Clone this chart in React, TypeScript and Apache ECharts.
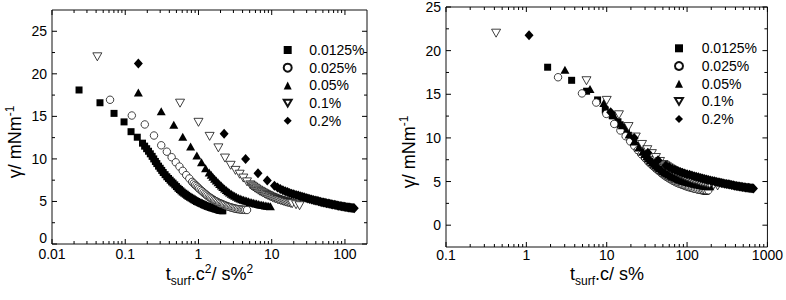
import React, { useEffect, useRef } from 'react';
import * as echarts from 'echarts';

const FONT = '"Liberation Sans", Arial, Helvetica, sans-serif';

const concentrations = ['0.0125%', '0.025%', '0.05%', '0.1%', '0.2%'];

// Surface tension γ (mN/m) against t_surf·c² (s·%²)
const leftSquares = [
  [0.0234, 18.1], [0.0452, 16.6], [0.0703, 15.35], [0.0963, 14.35], [0.12, 13.2], [0.146, 12.55],
  [0.172, 11.85], [0.184, 11.5], [0.196, 11.2], [0.208, 10.9], [0.22, 10.6], [0.233, 10.3], [0.245, 10.0],
  [0.258, 9.7], [0.27, 9.45], [0.285, 9.15], [0.3, 8.9], [0.315, 8.65], [0.33, 8.4], [0.35, 8.15], [0.37, 7.9],
  [0.39, 7.7], [0.41, 7.5], [0.43, 7.3], [0.45, 7.15], [0.475, 6.95], [0.5, 6.75], [0.525, 6.55], [0.55, 6.4],
  [0.575, 6.25], [0.6, 6.1], [0.63, 5.97], [0.66, 5.85], [0.69, 5.72], [0.72, 5.6], [0.755, 5.5], [0.79, 5.4],
  [0.825, 5.3], [0.86, 5.2], [0.9, 5.1], [0.94, 5.0], [0.985, 4.92], [1.03, 4.85], [1.075, 4.77], [1.12, 4.7],
  [1.17, 4.62], [1.22, 4.55], [1.275, 4.48], [1.33, 4.42], [1.39, 4.36], [1.45, 4.3], [1.51, 4.25], [1.58, 4.2],
  [1.65, 4.15], [1.72, 4.1], [1.8, 4.05], [1.87, 4.0], [1.94, 3.97], [2.0, 3.95], [2.08, 3.92], [2.15, 3.9],
];
const leftCircles = [
  [0.062, 16.95], [0.123, 15.1], [0.185, 14.05], [0.247, 12.75], [0.31, 11.6], [0.37, 10.85], [0.43, 10.2],
  [0.49, 9.6], [0.55, 9.1], [0.61, 8.6], [0.68, 8.1], [0.75, 7.7], [0.82, 7.3], [0.86, 7.12], [0.9, 6.95],
  [0.94, 6.8], [0.98, 6.65], [1.02, 6.5], [1.07, 6.35], [1.12, 6.2], [1.17, 6.05], [1.22, 5.92], [1.27, 5.8],
  [1.32, 5.67], [1.38, 5.55], [1.44, 5.45], [1.5, 5.35], [1.56, 5.25], [1.63, 5.15], [1.7, 5.06], [1.77, 4.98],
  [1.84, 4.9], [1.92, 4.82], [2.0, 4.76], [2.08, 4.7], [2.16, 4.64], [2.25, 4.58], [2.35, 4.51], [2.45, 4.45],
  [2.55, 4.4], [2.65, 4.35], [2.77, 4.3], [2.9, 4.25], [3.02, 4.21], [3.15, 4.17], [3.3, 4.13], [3.45, 4.1],
  [3.62, 4.07], [3.8, 4.05], [3.97, 4.03], [4.15, 4.02], [4.35, 4.01], [4.6, 4.0],
];
const leftTriangles = [
  [0.151, 17.8], [0.31, 15.6], [0.46, 14.0], [0.61, 12.6], [0.78, 11.45], [0.95, 10.4], [1.1, 9.6], [1.25, 8.9],
  [1.4, 8.4], [1.49, 8.15], [1.57, 7.9], [1.66, 7.67], [1.75, 7.45], [1.85, 7.25], [1.95, 7.05], [2.05, 6.87],
  [2.15, 6.7], [2.27, 6.52], [2.4, 6.35], [2.52, 6.2], [2.65, 6.05], [2.8, 5.92], [2.95, 5.8], [3.12, 5.67],
  [3.3, 5.55], [3.5, 5.45], [3.7, 5.35], [3.9, 5.27], [4.1, 5.2], [4.32, 5.13], [4.55, 5.07], [4.8, 5.01],
  [5.05, 4.95], [5.32, 4.9], [5.6, 4.85], [5.9, 4.8], [6.2, 4.75], [6.55, 4.7], [6.9, 4.65], [7.3, 4.61],
  [7.7, 4.57], [8.15, 4.53], [8.6, 4.5], [9.1, 4.47], [9.6, 4.45],
];
const leftDownTriangles = [
  [0.0416, 22.0], [0.56, 16.55], [1.0, 14.3], [1.42, 12.65], [1.87, 11.3], [2.3, 10.1], [2.75, 9.25], [3.2, 8.65],
  [3.65, 8.2], [4.1, 7.75], [4.6, 7.3], [5.1, 6.95], [5.35, 6.82], [5.6, 6.7], [5.9, 6.57], [6.2, 6.45],
  [6.55, 6.32], [6.9, 6.2], [7.25, 6.1], [7.6, 6.0], [8.0, 5.9], [8.4, 5.8], [8.85, 5.71], [9.3, 5.62],
  [9.8, 5.53], [10.3, 5.45], [10.85, 5.37], [11.4, 5.3], [12.0, 5.23], [12.6, 5.17], [13.3, 5.11], [14.0, 5.05],
  [14.7, 4.99], [15.5, 4.93], [16.3, 4.88], [17.2, 4.83], [18.1, 4.78], [19.0, 4.73], [21.5, 4.62], [24.0, 4.5],
];
const leftDiamonds = [
  [0.151, 21.2], [2.24, 12.95], [4.4, 10.0], [6.5, 8.3], [8.7, 7.45], [10.9, 6.85], [12.0, 6.63], [13.1, 6.45],
  [14.2, 6.32], [15.3, 6.2], [16.4, 6.1], [17.5, 6.0], [18.7, 5.92], [20, 5.85], [21.5, 5.77], [23, 5.7],
  [24.5, 5.62], [26, 5.55], [27.7, 5.48], [29.5, 5.42], [31.2, 5.36], [33, 5.3], [35, 5.24], [37, 5.18],
  [39.2, 5.12], [41.5, 5.07], [43.7, 5.02], [46, 4.97], [48.5, 4.92], [51, 4.88], [53.5, 4.84], [56, 4.8],
  [59, 4.76], [62, 4.72], [65, 4.68], [68, 4.65], [71.5, 4.61], [75, 4.57], [78.5, 4.53], [82, 4.5], [86, 4.47],
  [90, 4.44], [94, 4.41], [98, 4.38], [102.5, 4.35], [107, 4.33], [111.5, 4.3], [116, 4.28], [120.5, 4.26],
  [125, 4.24], [129.5, 4.22], [134, 4.2],
];

// Surface tension γ (mN/m) against t_surf·c (s·%)
const rightSquares = [
  [1.84, 18.1], [3.66, 16.6], [5.62, 15.35], [7.7, 14.35], [9.6, 13.2], [11.7, 12.55],
  [13.8, 11.85], [14.7, 11.5], [15.7, 11.2], [16.6, 10.9], [17.6, 10.6], [18.6, 10.3], [19.6, 10.0],
  [20.6, 9.7], [21.6, 9.45], [22.8, 9.15], [24, 8.9], [25.2, 8.65], [26.4, 8.4], [28, 8.15], [29.6, 7.9],
  [31.2, 7.7], [32.8, 7.5], [34.4, 7.3], [36, 7.15], [38, 6.95], [40, 6.75], [42, 6.55], [44, 6.4],
  [46, 6.25], [48, 6.1], [50.4, 5.97], [52.8, 5.85], [55.2, 5.72], [57.6, 5.6], [60.4, 5.5], [63.2, 5.4],
  [66, 5.3], [68.8, 5.2], [72, 5.1], [75.2, 5.0], [78.8, 4.92], [82.4, 4.85], [86, 4.77], [89.6, 4.7],
  [93.6, 4.62], [97.6, 4.55], [102, 4.48], [106.4, 4.42], [111.2, 4.36], [116, 4.3], [120.8, 4.25], [126.4, 4.2],
  [132, 4.15], [137.6, 4.1], [144, 4.05], [149.6, 4.0], [155.2, 3.97], [160, 3.95], [166.4, 3.92], [172, 3.9],
];
const rightCircles = [
  [2.48, 16.95], [4.92, 15.1], [7.4, 14.05], [9.88, 12.75], [12.4, 11.6], [14.8, 10.85], [17.2, 10.2],
  [19.6, 9.6], [22, 9.1], [24.4, 8.6], [27.2, 8.1], [30, 7.7], [32.8, 7.3], [34.4, 7.12], [36, 6.95],
  [37.6, 6.8], [39.2, 6.65], [40.8, 6.5], [42.8, 6.35], [44.8, 6.2], [46.8, 6.05], [48.8, 5.92], [50.8, 5.8],
  [52.8, 5.67], [55.2, 5.55], [57.6, 5.45], [60, 5.35], [62.4, 5.25], [65.2, 5.15], [68, 5.06], [70.8, 4.98],
  [73.6, 4.9], [76.8, 4.82], [80, 4.76], [83.2, 4.7], [86.4, 4.64], [90, 4.58], [94, 4.51], [98, 4.45],
  [102, 4.4], [106, 4.35], [110.8, 4.3], [116, 4.25], [120.8, 4.21], [126, 4.17], [132, 4.13], [138, 4.1],
  [144.8, 4.07], [152, 4.05], [158.8, 4.03], [166, 4.02], [174, 4.01], [184, 4.0],
];
const rightTriangles = [
  [3.02, 17.8], [6.2, 15.6], [9.2, 14.0], [12.2, 12.6], [15.6, 11.45], [19, 10.4], [22, 9.6], [25, 8.9],
  [28, 8.4], [29.8, 8.15], [31.4, 7.9], [33.2, 7.67], [35, 7.45], [37, 7.25], [39, 7.05], [41, 6.87],
  [43, 6.7], [45.4, 6.52], [48, 6.35], [50.4, 6.2], [53, 6.05], [56, 5.92], [59, 5.8], [62.4, 5.67],
  [66, 5.55], [70, 5.45], [74, 5.35], [78, 5.27], [82, 5.2], [86.4, 5.13], [91, 5.07], [96, 5.01],
  [101, 4.95], [106.4, 4.9], [112, 4.85], [118, 4.8], [124, 4.75], [131, 4.7], [138, 4.65], [146, 4.61],
  [154, 4.57], [163, 4.53], [172, 4.5], [182, 4.47], [192, 4.45],
];
const rightDownTriangles = [
  [0.42, 22.0], [5.6, 16.55], [10, 14.3], [14.2, 12.65], [18.7, 11.3], [23, 10.1], [27.5, 9.25], [32, 8.65],
  [36.5, 8.2], [41, 7.75], [46, 7.3], [51, 6.95], [53.5, 6.82], [56, 6.7], [59, 6.57], [62, 6.45],
  [65.5, 6.32], [69, 6.2], [72.5, 6.1], [76, 6.0], [80, 5.9], [84, 5.8], [88.5, 5.71], [93, 5.62],
  [98, 5.53], [103, 5.45], [108.5, 5.37], [114, 5.3], [120, 5.23], [126, 5.17], [133, 5.11], [140, 5.05],
  [147, 4.99], [155, 4.93], [163, 4.88], [172, 4.83], [181, 4.78], [190, 4.73], [215, 4.62], [240, 4.5],
];
const rightDiamonds = [
  [1.08, 21.75], [11.2, 12.95], [22, 10.0], [32.5, 8.3], [43.5, 7.45], [54.5, 6.85], [60, 6.63], [65.5, 6.45],
  [71, 6.32], [76.5, 6.2], [82, 6.1], [87.5, 6.0], [93.5, 5.92], [100, 5.85], [107.5, 5.77], [115, 5.7],
  [122.5, 5.62], [130, 5.55], [138.5, 5.48], [147.5, 5.42], [156, 5.36], [165, 5.3], [175, 5.24], [185, 5.18],
  [196, 5.12], [207.5, 5.07], [218.5, 5.02], [230, 4.97], [242.5, 4.92], [255, 4.88], [267.5, 4.84], [280, 4.8],
  [295, 4.76], [310, 4.72], [325, 4.68], [340, 4.65], [357.5, 4.61], [375, 4.57], [392.5, 4.53], [410, 4.5],
  [430, 4.47], [450, 4.44], [470, 4.41], [490, 4.38], [512.5, 4.35], [535, 4.33], [557.5, 4.3], [580, 4.28],
  [602.5, 4.26], [625, 4.24], [647.5, 4.22], [670, 4.2],
];

// Axis tick labels
const leftXDecades = [0.01, 0.1, 1, 10, 100];
const leftXLabels = ['0.01', '0.1', '1', '10', '100'];
const rightXDecades = [0.1, 1, 10, 100, 1000];
const rightXLabels = ['0.1', '1', '10', '100', '1000'];
const leftYTicks = [0, 5, 10, 15, 20, 25];
const rightYTicks = [0, 5, 10, 15, 20, 25];

const markerStyles = [
  { symbol: 'rect', size: 7, fill: '#000' },
  { symbol: 'circle', size: 7.5, fill: '#fff' },
  { symbol: 'triangle', size: [9, 8], fill: '#000' },
  { symbol: 'path://M0,0L10,0L5,8.66Z', size: [9, 8], fill: '#fff' },
  { symbol: 'diamond', size: [9, 10], fill: '#000' },
];

const leftData = [leftSquares, leftCircles, leftTriangles, leftDownTriangles, leftDiamonds];
const rightData = [rightSquares, rightCircles, rightTriangles, rightDownTriangles, rightDiamonds];

const decadeFormatter = (decades: number[], labels: string[]) => (v: number) => {
  const i = decades.findIndex((d) => Math.abs(Math.log10(v / d)) < 1e-6);
  return i >= 0 ? labels[i] : '';
};
// Labels every 5 units; the bottom "0" of the left panel sits a little higher
const fiveFormatter = (liftZero: boolean) => (v: number) => {
  if (Math.abs(v % 5) > 1e-9) return '';
  if (liftZero && Math.abs(v) < 1e-9) return '{lift|0}';
  return String(v);
};

function scatterSeries(gridIndex: number, data: number[][][]) {
  return data.map((points, i) => {
    const m = markerStyles[i];
    const hollow = m.fill === '#fff';
    return {
      type: 'scatter',
      name: concentrations[i],
      xAxisIndex: gridIndex,
      yAxisIndex: gridIndex,
      data: points,
      symbol: m.symbol,
      symbolSize: m.size,
      itemStyle: { color: m.fill, borderColor: '#111', borderWidth: hollow ? 0.8 : 0, opacity: 1 },
      emphasis: { disabled: true },
      z: 3,
    };
  });
}

// Inward ticks on all four sides of a plot box, placed through the axes' own scales.
function tickSeries(gridIndex: number, xDecades: number[], xMax: number, yMajor: number[], yMin: number, yMax: number) {
  const xMinor: number[] = [];
  xDecades.forEach((d) => {
    for (let k = 2; k <= 9; k++) {
      const v = d * k;
      if (v < xMax * 0.999) xMinor.push(v);
    }
  });
  const yMinor: number[] = [];
  yMajor.forEach((v) => {
    [v - 2.5, v + 2.5].forEach((w) => {
      if (w > yMin + 1e-9 && w < yMax - 1e-9 && !yMinor.includes(w)) yMinor.push(w);
    });
  });
  return {
    type: 'custom',
    xAxisIndex: gridIndex,
    yAxisIndex: gridIndex,
    silent: true,
    z: 5,
    data: [[xDecades[1], yMajor[1]]],
    renderItem: (params: any, api: any) => {
      const cs = params.coordSys;
      const left = cs.x;
      const right = cs.x + cs.width;
      const top = cs.y;
      const bottom = cs.y + cs.height;
      const children: any[] = [];
      const line = (x1: number, y1: number, x2: number, y2: number) => ({
        type: 'line',
        shape: { x1, y1, x2, y2 },
        style: { stroke: '#000', lineWidth: 1 },
      });
      const xTick = (v: number, len: number) => {
        const px = api.coord([v, yMajor[1]])[0];
        children.push(line(px, bottom, px, bottom - len));
        children.push(line(px, top, px, top + len));
      };
      const yTick = (v: number, len: number) => {
        const py = api.coord([xDecades[1], v])[1];
        children.push(line(left, py, left + len, py));
        children.push(line(right, py, right - len, py));
      };
      xDecades.forEach((v) => xTick(v, 5));
      xMinor.forEach((v) => xTick(v, 3));
      yMajor.forEach((v) => yTick(v, 5));
      yMinor.forEach((v) => yTick(v, 3));
      return { type: 'group', children };
    },
  };
}

type Piece = { t: string; size: number; dy: number };

let measureCtx: CanvasRenderingContext2D | null = null;
function textWidth(s: string, size: number) {
  if (!measureCtx) measureCtx = document.createElement('canvas').getContext('2d');
  measureCtx!.font = `${size}px ${FONT}`;
  return measureCtx!.measureText(s).width;
}

// A line of text made of baseline-shifted pieces (subscripts and superscripts), centred on x = 0.
function titleGroup(pieces: Piece[], x: number, y: number, rotation = 0) {
  const widths = pieces.map((p) => textWidth(p.t, p.size));
  const total = widths.reduce((a, b) => a + b, 0);
  let cx = -total / 2;
  const children = pieces.map((p, i) => {
    const el = {
      type: 'text',
      x: cx,
      y: p.dy - 0.3465 * p.size,
      style: {
        text: p.t,
        fontSize: p.size,
        fontFamily: FONT,
        fill: '#000',
        textAlign: 'left',
        textVerticalAlign: 'middle',
        verticalAlign: 'middle',
      },
    };
    cx += widths[i];
    return el;
  });
  return { type: 'group', x, y, rotation, children, silent: true };
}

const gammaTitle: Piece[] = [
  { t: 'γ/ mNm', size: 18, dy: 0 },
  { t: '-1', size: 12, dy: -7 },
];
const leftXTitle: Piece[] = [
  { t: 't', size: 18, dy: 0 },
  { t: 'surf', size: 12, dy: 5 },
  { t: '.c', size: 18, dy: 0 },
  { t: '2', size: 12, dy: -7 },
  { t: '/ s%', size: 18, dy: 0 },
  { t: '2', size: 12, dy: -7 },
];
const rightXTitle: Piece[] = [
  { t: 't', size: 18, dy: 0 },
  { t: 'surf', size: 12, dy: 5 },
  { t: '.c/ s%', size: 18, dy: 0 },
];

function buildOption() {
  const axisLabel = { fontSize: 14, fontFamily: FONT, color: '#000' };
  const legendBase = {
    orient: 'vertical',
    itemWidth: 8,
    itemHeight: 8,
    itemGap: 0.7,
    selectedMode: false,
    data: concentrations,
  };
  const legendText = (gap: number) => ({
    fontSize: 14, fontFamily: FONT, color: '#000', lineHeight: 17, padding: [0, 0, 0, gap],
  });
  return {
    animation: false,
    backgroundColor: '#fff',
    grid: [
      { left: 52, top: 10, width: 315, height: 234, show: true, borderColor: '#111', borderWidth: 1, backgroundColor: 'transparent' },
      { left: 446, top: 6, width: 324, height: 241, show: true, borderColor: '#111', borderWidth: 1, backgroundColor: 'transparent' },
    ],
    xAxis: [
      {
        type: 'log', logBase: 10, gridIndex: 0, min: 0.01, max: 200,
        axisLine: { show: false }, axisTick: { show: false }, splitLine: { show: false }, minorTick: { show: false },
        axisLabel: { ...axisLabel, margin: 3, formatter: decadeFormatter(leftXDecades, leftXLabels) },
      },
      {
        type: 'log', logBase: 10, gridIndex: 1, min: 0.1, max: 1000,
        axisLine: { show: false }, axisTick: { show: false }, splitLine: { show: false }, minorTick: { show: false },
        axisLabel: { ...axisLabel, margin: 1, formatter: decadeFormatter(rightXDecades, rightXLabels) },
      },
    ],
    yAxis: [
      {
        type: 'value', gridIndex: 0, min: 0, max: 27.5, interval: 2.5,
        axisLine: { show: false }, axisTick: { show: false }, splitLine: { show: false },
        axisLabel: {
          ...axisLabel, margin: 5, formatter: fiveFormatter(true),
          rich: { lift: { ...axisLabel, padding: [0, 0, 13, 0] } },
        },
      },
      {
        type: 'value', gridIndex: 1, min: -2.5, max: 25, interval: 2.5,
        axisLine: { show: false }, axisTick: { show: false }, splitLine: { show: false },
        axisLabel: { ...axisLabel, margin: 5, formatter: fiveFormatter(false) },
      },
    ],
    legend: [
      { ...legendBase, left: 277.7, top: 36.5, textStyle: legendText(12.6) },
      { ...legendBase, left: 669, top: 34.8, textStyle: legendText(13.7) },
    ],
    graphic: [
      titleGroup(gammaTitle, 21, 142, Math.PI / 2),
      titleGroup(gammaTitle, 415, 152, Math.PI / 2),
      titleGroup(leftXTitle, 209.5, 280),
      titleGroup(rightXTitle, 607, 280),
    ],
    series: [
      ...scatterSeries(0, leftData),
      ...scatterSeries(1, rightData),
      tickSeries(0, leftXDecades, 200, leftYTicks, 0, 27.5),
      tickSeries(1, rightXDecades, 1000, rightYTicks, -2.5, 25),
    ],
  };
}

export default function App() {
  const ref = useRef<HTMLDivElement>(null);
  useEffect(() => {
    if (!ref.current) return;
    const chart = echarts.init(ref.current, null, { renderer: 'svg' });
    chart.setOption(buildOption() as any);
    return () => chart.dispose();
  }, []);
  return <div ref={ref} style={{ position: 'absolute', left: 0, top: 0, width: 786, height: 300 }} />;
}
